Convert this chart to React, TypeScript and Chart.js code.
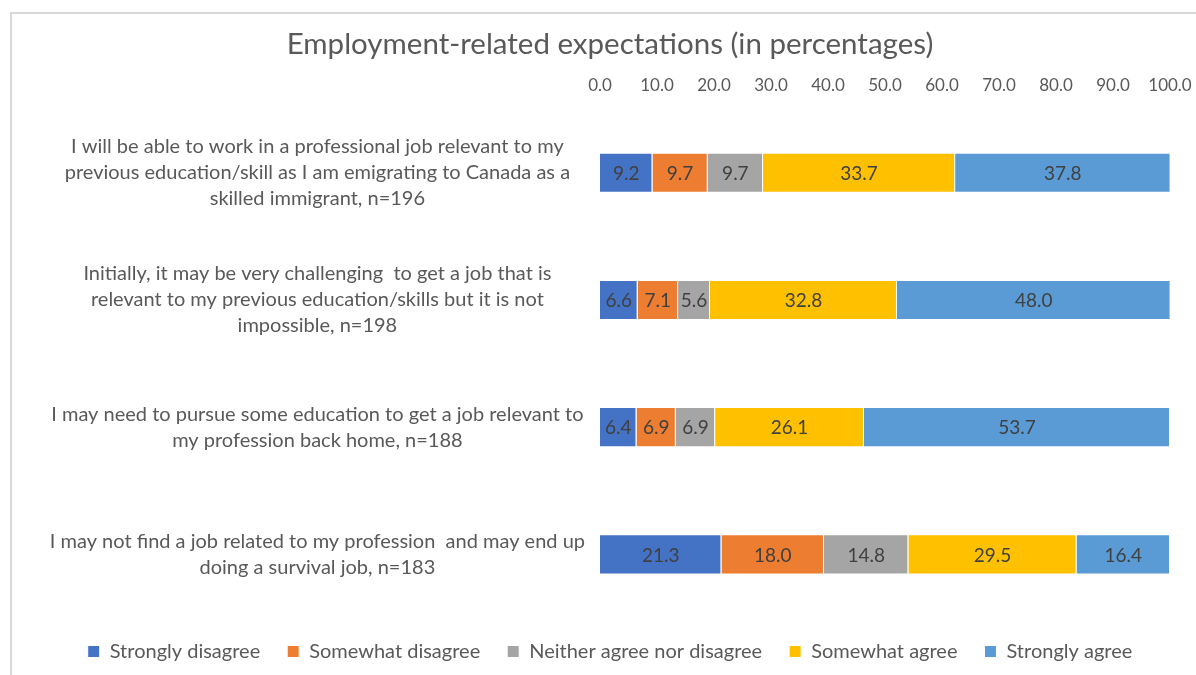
import React, { useEffect, useRef } from "react";
import { Chart, registerables } from "chart.js";

Chart.register(...registerables);

const categories: string[][] = [
  ["I will be able to work in a professional job relevant to my", "previous education/skill as I am emigrating to Canada as a", "skilled immigrant, n=196"],
  ["Initially, it may be very challenging  to get a job that is", "relevant to my previous education/skills but it is not", "impossible, n=198"],
  ["I may need to pursue some education to get a job relevant to", "my profession back home, n=188"],
  ["I may not find a job related to my profession  and may end up", "doing a survival job, n=183"],
];

const seriesNames = ["Strongly disagree", "Somewhat disagree", "Neither agree nor disagree", "Somewhat agree", "Strongly agree"];
const stronglyDisagree = [9.2, 6.6, 6.4, 21.3];
const somewhatDisagree = [9.7, 7.1, 6.9, 18.0];
const neither = [9.7, 5.6, 6.9, 14.8];
const somewhatAgree = [33.7, 32.8, 26.1, 29.5];
const stronglyAgree = [37.8, 48.0, 53.7, 16.4];
const seriesColors = ["#4472C4", "#ED7D31", "#A5A5A5", "#FFC000", "#5B9BD5"];

const titleText = "Employment-related expectations (in percentages)";
const FONT = "Lato";

const dataLabelPlugin = {
  id: "dataLabels",
  afterDatasetsDraw(chart: any) {
    const ctx = chart.ctx;
    ctx.save();
    ctx.font = `19px ${FONT}`;
    ctx.fillStyle = "#404040";
    ctx.textAlign = "center";
    ctx.textBaseline = "middle";
    chart.data.datasets.forEach((ds: any, i: number) => {
      const meta = chart.getDatasetMeta(i);
      meta.data.forEach((bar: any, j: number) => {
        const { x, y, base } = bar.getProps(["x", "y", "base"], true);
        ctx.fillText(Number(ds.data[j]).toFixed(1), (x + base) / 2, y + 1);
      });
    });
    ctx.restore();
  },
};

const legendShiftPlugin = {
  id: "legendShift",
  afterLayout(chart: any) {
    const lg = chart.legend;
    if (lg) {
      lg.top -= 3.5;
      lg.bottom -= 3.5;
    }
  },
};

export default function App() {
  const ref = useRef<HTMLCanvasElement>(null);
  useEffect(() => {
    document.body.style.margin = "0";
    const allSeries = [stronglyDisagree, somewhatDisagree, neither, somewhatAgree, stronglyAgree];
    const chart = new Chart(ref.current!, {
      type: "bar",
      data: {
        labels: categories,
        datasets: allSeries.map((d, i) => ({
          label: seriesNames[i],
          data: d,
          backgroundColor: seriesColors[i],
          borderColor: "#FFFFFF",
          borderWidth: 1,
          barPercentage: 0.315,
          categoryPercentage: 1,
        })),
      },
      options: {
        indexAxis: "y",
        responsive: false,
        animation: false,
        layout: { padding: { left: 50, right: 26, top: 0, bottom: 0 } },
        scales: {
          x: {
            position: "top",
            stacked: true,
            min: 0,
            max: 100,
            grid: { display: false, drawTicks: false },
            border: { display: false },
            afterFit: (s: any) => { s.paddingLeft = 0; s.paddingRight = 0; s.height = 35.7; },
            ticks: {
              stepSize: 10,
              padding: 13,
              maxRotation: 0,
              color: "#595959",
              font: { family: FONT, size: 17 },
              callback: (v: any) => Number(v).toFixed(1),
            },
          },
          y: {
            stacked: true,
            grid: { display: false, drawTicks: false },
            border: { display: false },
            afterFit: (s: any) => { s.width = 550; s.paddingTop = 0; s.paddingBottom = 0; },
            ticks: {
              crossAlign: "center",
              padding: 15,
              color: "#595959",
              font: { family: FONT, size: 20, lineHeight: 1.3 },
            },
          },
        },
        plugins: {
          title: {
            display: true,
            text: titleText,
            color: "#595959",
            font: { family: FONT, size: 29.5, weight: "normal" },
            padding: { top: 27, bottom: 11 },
          },
          legend: {
            position: "bottom",
            maxHeight: 57.5,
            labels: {
              boxWidth: 12,
              boxHeight: 12,
              color: "#595959",
              font: { family: FONT, size: 20 },
              padding: 27,
            },
          },
          tooltip: { enabled: false },
        },
      },
      plugins: [dataLabelPlugin, legendShiftPlugin],
    });
    return () => chart.destroy();
  }, []);
  return (
    <div style={{ position: "fixed", left: 0, top: 0, width: 1196, height: 675, background: "#fff" }}>
      <div style={{ position: "absolute", left: 10, top: 12, width: 1200, height: 700, borderLeft: "2px solid #D9D9D9", borderTop: "2px solid #D9D9D9" }} />
      <canvas ref={ref} width={1196} height={675} style={{ position: "absolute", left: 0, top: 0 }} />
    </div>
  );
}
